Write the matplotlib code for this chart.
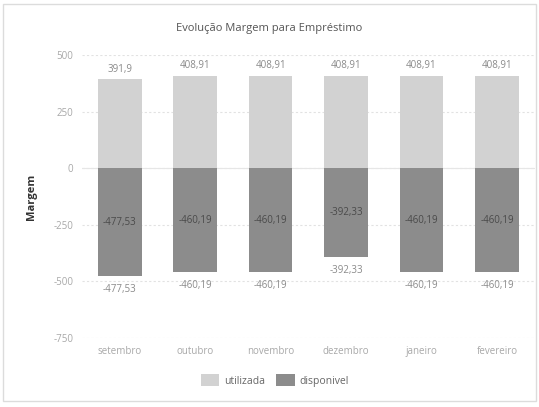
import matplotlib
matplotlib.use('Agg')
import matplotlib.pyplot as plt
from matplotlib.patches import Rectangle
import numpy as np

meses = ['setembro', 'outubro', 'novembro', 'dezembro', 'janeiro', 'fevereiro']
utilizada = [391.9, 408.91, 408.91, 408.91, 408.91, 408.91]
disponivel = [-477.53, -460.19, -460.19, -392.33, -460.19, -460.19]
yticks = [-750, -500, -250, 0, 250, 500]


def fmt(v):
    s = f'{v:.2f}'.rstrip('0').rstrip('.')
    return s.replace('.', ',')


plt.rcParams['font.family'] = ['Open Sans', 'DejaVu Sans']

fig = plt.figure(figsize=(5.39, 4.07), dpi=100)
fig.patch.set_facecolor('white')
# moldura clara em volta do grafico
fig.patches.append(Rectangle((0.006, 0.015), 0.988, 0.975, transform=fig.transFigure,
                             fill=False, edgecolor='#dcdcdc', linewidth=1))

ax = fig.add_axes([0.152, 0.170, 0.840, 0.695])
x = np.arange(len(meses))
w = 0.58

c_util = '#d2d2d2'
c_disp = '#8c8c8c'
ax.bar(x, utilizada, w, color=c_util, label='utilizada', zorder=2)
ax.bar(x, disponivel, w, color=c_disp, label='disponivel', zorder=2)

for i in range(len(meses)):
    ax.text(x[i], utilizada[i] + 18, fmt(utilizada[i]), ha='center', va='bottom',
            fontsize=7, color='#8a8a8a')
    ax.text(x[i], disponivel[i] / 2, fmt(disponivel[i]), ha='center', va='center',
            fontsize=7, color='#4a4a4a', zorder=3)
    ax.text(x[i], disponivel[i] - 35, fmt(disponivel[i]), ha='center', va='top',
            fontsize=7, color='#8a8a8a')

ax.set_xlim(-0.5, len(meses) - 0.5)
ax.set_ylim(-750, 500)
ax.set_yticks(yticks)
ax.set_yticklabels([str(t) for t in yticks])
ax.set_xticks(x)
ax.set_xticklabels(meses)
ax.tick_params(axis='both', length=0, labelsize=7, colors='#a8a8a8')
ax.tick_params(axis='y', pad=6)
ax.tick_params(axis='x', pad=6)
for s in ax.spines.values():
    s.set_visible(False)
ax.grid(axis='y', color='#e2e2e2', linestyle=(0, (2, 2)), linewidth=0.8, zorder=0)
ax.axhline(0, color='#e6e6e6', linewidth=0.8, zorder=1)
ax.set_axisbelow(True)

ax.set_ylabel('Margem', fontsize=8, fontweight='bold', color='#333333', labelpad=12)
fig.text(0.50, 0.930, 'Evolução Margem para Empréstimo', ha='center', va='center',
         fontsize=8, color='#555555')

leg = fig.legend(loc='center', bbox_to_anchor=(0.51, 0.065), ncol=2, frameon=False,
                 fontsize=7.5, handlelength=1.8, handleheight=1.4, columnspacing=1.0,
                 handletextpad=0.5)
for t in leg.get_texts():
    t.set_color('#666666')

fig.savefig('out.png', dpi=100)
